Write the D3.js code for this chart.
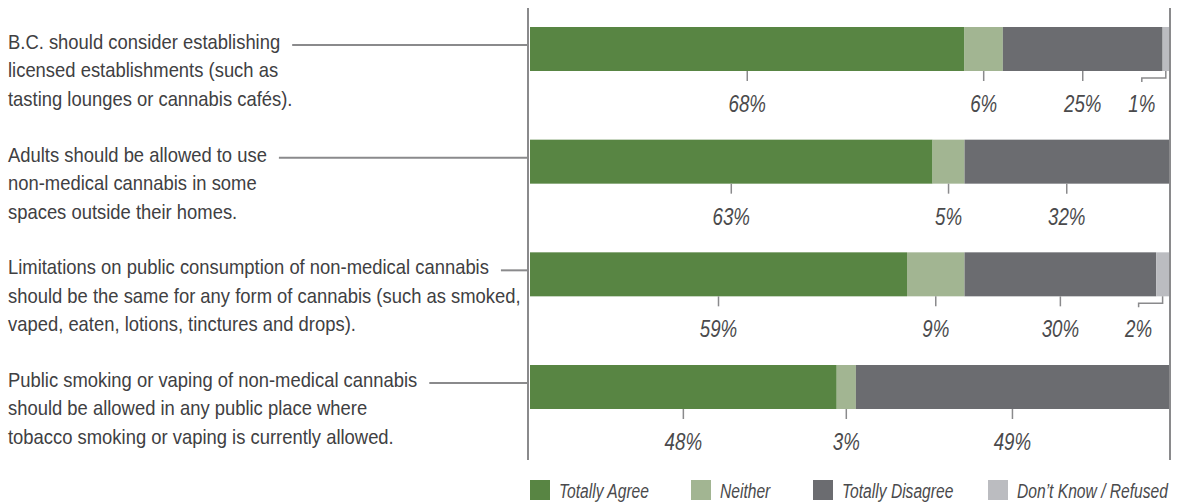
<!DOCTYPE html>
<html lang="en">
<head>
  <meta charset="UTF-8">
  <title>Public consumption of non-medical cannabis</title>
  <style>
    body { margin: 0; background: #fff; }
    svg { display: block; }
    text { font-family: "Liberation Sans", Arial, sans-serif; }
  </style>
</head>
<body>
  <script src="https://cdn.jsdelivr.net/npm/d3@7"></script>
  <script>
    // statements, one array of lines each
    const statements = [
      ['B.C. should consider establishing', 'licensed establishments (such as', 'tasting lounges or cannabis cafés).'],
      ['Adults should be allowed to use', 'non-medical cannabis in some', 'spaces outside their homes.'],
      ['Limitations on public consumption of non-medical cannabis', 'should be the same for any form of cannabis (such as smoked,', 'vaped, eaten, lotions, tinctures and drops).'],
      ['Public smoking or vaping of non-medical cannabis', 'should be allowed in any public place where', 'tobacco smoking or vaping is currently allowed.']
    ];
    const seriesNames = ['Totally Agree', 'Neither', 'Totally Disagree', 'Don\u2019t Know / Refused'];
    const totallyAgree    = [68, 63, 59, 48];
    const neither         = [6, 5, 9, 3];
    const totallyDisagree = [25, 32, 30, 49];
    const dontKnow        = [1, 0, 2, 0];

    const colors = ['#588543', '#a2b592', '#6b6c70', '#bbbcc0'];

    const W = 1178, H = 504;
    const svg = d3.select('body').append('svg').attr('width', W).attr('height', H);

    // condensed look: squeeze a regular face horizontally
    function squeeze(str, size, italic, target) {
      const p = svg.append('text').attr('font-size', size)
        .attr('font-style', italic ? 'italic' : 'normal').text(str);
      const f = target / p.node().getComputedTextLength();
      p.remove();
      return f;
    }
    const k = squeeze(statements[2][0], 20, false, 481);
    const kIt = squeeze(seriesNames[3], 20, true, 151);
    function label(parent, px, py, f) {
      return parent.append('g')
        .attr('transform', `translate(${px},${py}) scale(${f},1)`)
        .append('text');
    }

    const x = d3.scaleLinear().domain([0, 100]).range([530, 1169]);
    const y = d3.scalePoint().domain(d3.range(statements.length)).range([27, 365]);
    const barH = 44;

    const rows = statements.map((s, i) => ({
      i, lines: s,
      vals: [totallyAgree[i], neither[i], totallyDisagree[i], dontKnow[i]]
    }));
    const layers = d3.stack().keys([0, 1, 2, 3]).value((d, key) => d.vals[key])(rows);

    const axisColor = '#8a8a8c';
    svg.selectAll('line.frame').data([x(0) - 2, x(100) + 1]).enter().append('line')
      .attr('class', 'frame')
      .attr('x1', d => d).attr('x2', d => d)
      .attr('y1', 8).attr('y2', 460)
      .attr('stroke', axisColor).attr('stroke-width', 2);

    // statements + leader lines
    rows.forEach(d => {
      const top = y(d.i);
      const t = label(svg, 8, top + 22, k)
        .attr('font-size', 20).attr('fill', '#404042');
      t.selectAll('tspan').data(d.lines).enter().append('tspan')
        .attr('x', 0).attr('dy', (l, j) => j === 0 ? 0 : 28.5)
        .text(l => l);
      const w = t.select('tspan').node().getComputedTextLength() * k;
      svg.append('line')
        .attr('x1', 8 + w + 12).attr('x2', x(0) - 2)
        .attr('y1', top + 18).attr('y2', top + 18)
        .attr('stroke', axisColor).attr('stroke-width', 2);
    });

    // bars
    svg.selectAll('g.layer').data(layers).enter().append('g')
      .attr('class', 'layer')
      .attr('fill', d => colors[d.key])
      .selectAll('rect').data(d => d).enter().append('rect')
      .attr('x', d => x(d[0]))
      .attr('width', d => x(d[1]) - x(d[0]))
      .attr('y', d => y(d.data.i))
      .attr('height', barH);

    // percent labels with ticks
    layers.forEach(layer => {
      layer.forEach(d => {
        const v = d[1] - d[0];
        if (v <= 0) return;
        const cx = (x(d[0]) + x(d[1])) / 2;
        const by = y(d.data.i) + barH;
        let lx = cx;
        if (v <= 2) {
          lx = cx - 24;
          svg.append('path')
            .attr('d', `M${cx},${by}V${by + 7}H${lx}V${by + 11}`)
            .attr('fill', 'none').attr('stroke', axisColor).attr('stroke-width', 1.5);
        } else {
          svg.append('line')
            .attr('x1', cx).attr('x2', cx)
            .attr('y1', by).attr('y2', by + 10)
            .attr('stroke', axisColor).attr('stroke-width', 1.5);
        }
        label(svg, lx, by + 41, kIt)
          .attr('text-anchor', 'middle')
          .attr('font-size', 24).attr('font-style', 'italic')
          .attr('fill', '#4a4a4c')
          .text(v + '%');
      });
    });

    // legend
    const legendX = [530, 691, 813, 988];
    seriesNames.forEach((name, i) => {
      svg.append('rect')
        .attr('x', legendX[i]).attr('y', 480)
        .attr('width', 20).attr('height', 20)
        .attr('fill', colors[i]);
      label(svg, legendX[i] + 29, 498, kIt)
        .attr('font-size', 20).attr('font-style', 'italic').attr('fill', '#4a4a4c')
        .text(name);
    });
  </script>
</body>
</html>
